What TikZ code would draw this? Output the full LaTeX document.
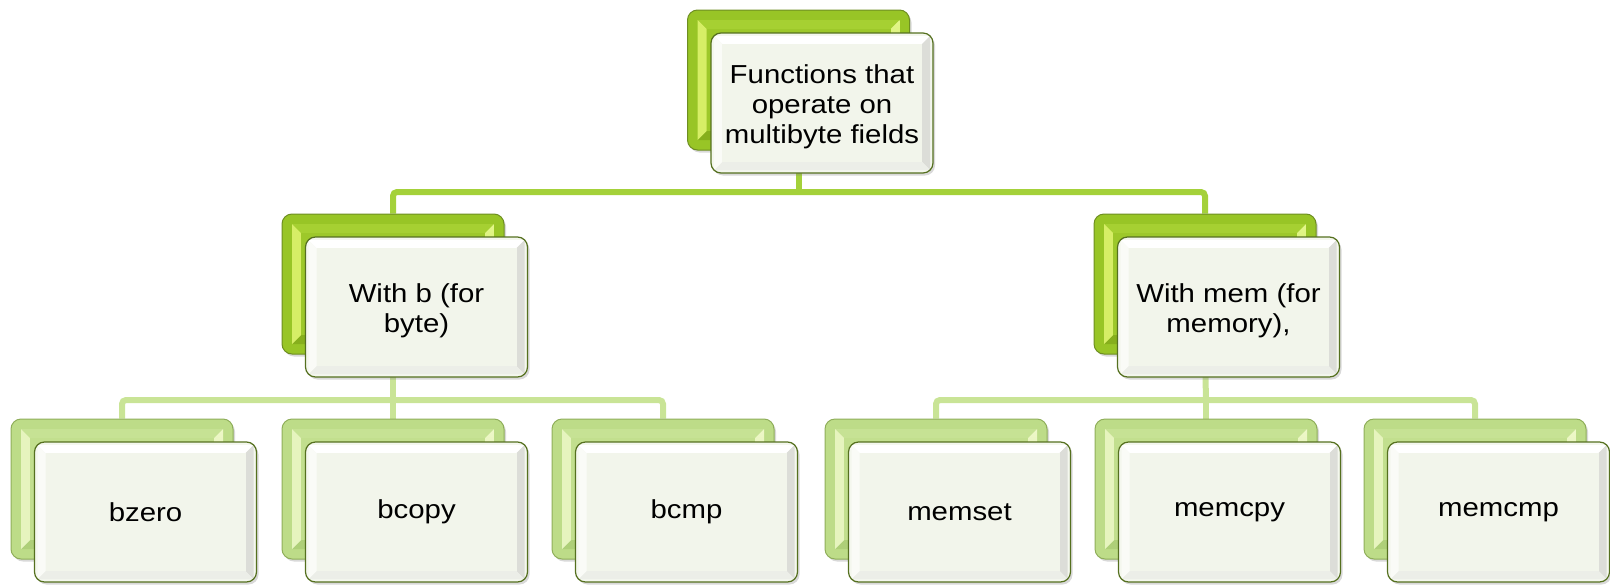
\documentclass[tikz,border=0pt]{standalone}
\usepackage{fontspec}
\setmainfont[FakeStretch=1.13]{Liberation Sans}
\usetikzlibrary{shadows,backgrounds}
\definecolor{connA}{HTML}{A4D13A}
\definecolor{connB}{HTML}{C9E496}
\definecolor{bigedge}{HTML}{6E8E22}
\definecolor{bigrim}{HTML}{98C526}
\definecolor{bigtop}{HTML}{A6D032}
\definecolor{bighl}{HTML}{E4F78A}
\definecolor{bigright}{HTML}{A8D034}
\definecolor{bigbot}{HTML}{86AF1C}
\definecolor{bigleft}{HTML}{D6EE66}
\definecolor{bigface}{HTML}{9DC82A}
\definecolor{smalledge}{HTML}{8FAE5A}
\definecolor{smallrim}{HTML}{BDDC88}
\definecolor{smalltop}{HTML}{C6E294}
\definecolor{smallhl}{HTML}{EEF8C8}
\definecolor{smallright}{HTML}{C4E090}
\definecolor{smallbot}{HTML}{AECF78}
\definecolor{smallleft}{HTML}{E6F4BE}
\definecolor{smallface}{HTML}{C2DF8E}
\definecolor{frontedge}{HTML}{55701F}
\definecolor{frontrim}{HTML}{F4F7EE}
\definecolor{frontright}{HTML}{DCDDD8}
\definecolor{frontbot}{HTML}{ECEEE8}
\definecolor{frontleft}{HTML}{FAFBF7}
\definecolor{frontface}{HTML}{F2F5EB}
\newcommand\mybevel[7]{%
  \begin{scope}[sharp corners]
  \coordinate (pNW) at (path picture bounding box.north west);
  \coordinate (pNE) at (path picture bounding box.north east);
  \coordinate (pSW) at (path picture bounding box.south west);
  \coordinate (pSE) at (path picture bounding box.south east);
  \coordinate (oNW) at ([xshift=#1,yshift=-#1]pNW);
  \coordinate (oNE) at ([xshift=-#1,yshift=-#1]pNE);
  \coordinate (oSW) at ([xshift=#1,yshift=#1]pSW);
  \coordinate (oSE) at ([xshift=-#1,yshift=#1]pSE);
  \coordinate (iNW) at ([xshift=#2,yshift=-#2]pNW);
  \coordinate (iNE) at ([xshift=-#2,yshift=-#2]pNE);
  \coordinate (iSW) at ([xshift=#2,yshift=#2]pSW);
  \coordinate (iSE) at ([xshift=-#2,yshift=#2]pSE);
  \fill[#3] (oNW) -- (oNE) -- (iNE) -- (iNW) -- cycle;
  \fill[#4] (oNE) -- (oSE) -- (iSE) -- (iNE) -- cycle;
  \fill[#5] (oSE) -- (oSW) -- (iSW) -- (iSE) -- cycle;
  \fill[#6] (oSW) -- (oNW) -- (iNW) -- (iSW) -- cycle;
  \fill[#7] (iNW) rectangle (iSE);
  \end{scope}
}
\tikzset{
  boxbase/.style={rectangle, rounded corners=10pt, minimum width=222pt,
    minimum height=140pt, inner sep=0pt,
    drop shadow={opacity=0.3, shadow xshift=2pt, shadow yshift=-2.5pt}},
  bigback/.style={boxbase, draw=bigedge, fill=bigrim, line width=1pt,
    path picture={\mybevel{10pt}{19pt}{bigtop}{top color=bighl,bottom color=bigright}{bigbot}{bigleft}{bigface}}},
  smallback/.style={boxbase, draw=smalledge, fill=smallrim, line width=1pt,
    path picture={\mybevel{10pt}{19pt}{smalltop}{top color=smallhl,bottom color=smallright}{smallbot}{smallleft}{smallface}}},
  frontbox/.style={boxbase, draw=frontedge, fill=frontrim, line width=1.2pt, align=center,
    font=\fontsize{26pt}{30pt}\selectfont, text=black,
    path picture={\mybevel{3pt}{11pt}{white}{frontright}{frontbot}{frontleft}{frontface}}},
  threeline/.style={text height=87pt},
  twoline/.style={text height=57pt},
  connlineA/.style={draw=connA, line width=6pt, rounded corners=4pt},
  connlineB/.style={draw=connB, line width=6pt, rounded corners=4pt}
}
\begin{document}
\begin{tikzpicture}[x=1pt,y=-1pt]
\useasboundingbox (0,0) rectangle (1610,584);
% top
\node[bigback] (topb) at (798.5,80) {};
\node[frontbox,threeline] (top) at (822,103) {Functions that\\operate on\\multibyte fields};
% middle
\node[bigback] (lb) at (393,284) {};
\node[frontbox,twoline] (l) at (416.5,307) {With b (for\\byte)};
\node[bigback] (rb) at (1205,284) {};
\node[frontbox,twoline] (r) at (1228.5,307) {With mem (for\\memory),};
% bottom
\node[smallback] (b1b) at (122,489) {};
\node[frontbox] (b1) at (145.5,512) {bzero};
\node[smallback] (b2b) at (393,489) {};
\node[frontbox] (b2) at (416.5,512) {bcopy};
\node[smallback] (b3b) at (663,489) {};
\node[frontbox] (b3) at (686.5,512) {bcmp};
\node[smallback] (m1b) at (936,489) {};
\node[frontbox] (m1) at (959.5,512) {memset};
\node[smallback] (m2b) at (1206,489) {};
\node[frontbox] (m2) at (1229.5,512) {memcpy};
\node[smallback] (m3b) at (1475,489) {};
\node[frontbox] (m3) at (1498.5,512) {memcmp};
% connectors
\coordinate (busA) at (798.5,192);
\coordinate (busL) at (393,400);
\coordinate (busR) at (1206,400);
\begin{scope}[on background layer]
\draw[connlineA] (topb.south) -- (busA);
\draw[connlineA] (lb.north) |- (busA) -| (rb.north);
\draw[connlineB] (lb.south) -- (busL);
\draw[connlineB] (b1b.north) |- (busL) -| (b3b.north);
\draw[connlineB] (busL) -- (b2b.north);
\draw[connlineB] (rb.south) -- (busR);
\draw[connlineB] (m1b.north) |- (busR) -| (m3b.north);
\draw[connlineB] (busR) -- (m2b.north);
\end{scope}
\end{tikzpicture}
\end{document}
